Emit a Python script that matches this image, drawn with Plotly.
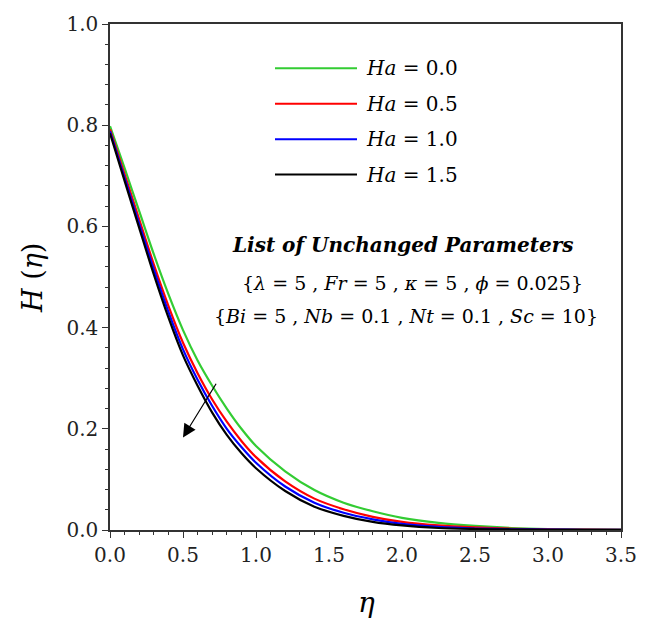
import plotly.graph_objects as go

eta = [0.0, 0.1, 0.2, 0.3, 0.4, 0.5, 0.6, 0.7, 0.8, 0.9, 1.0, 1.2, 1.4, 1.6, 1.8, 2.0, 2.25, 2.5, 2.75, 3.0, 3.25, 3.5]
H_ha00 = [0.798, 0.715, 0.630, 0.545, 0.466, 0.395, 0.335, 0.285, 0.240, 0.200, 0.166, 0.116, 0.079, 0.054, 0.037, 0.024, 0.014, 0.008, 0.004, 0.002, 0.001, 0.0005]
H_ha05 = [0.792, 0.703, 0.614, 0.525, 0.443, 0.370, 0.310, 0.258, 0.214, 0.176, 0.144, 0.096, 0.062, 0.041, 0.026, 0.016, 0.009, 0.005, 0.0025, 0.0012, 0.0006, 0.0003]
H_ha10 = [0.788, 0.696, 0.605, 0.515, 0.431, 0.357, 0.297, 0.245, 0.200, 0.164, 0.133, 0.086, 0.054, 0.034, 0.021, 0.012, 0.006, 0.003, 0.0015, 0.0008, 0.0004, 0.0002]
H_ha15 = [0.784, 0.690, 0.597, 0.505, 0.420, 0.345, 0.285, 0.232, 0.188, 0.152, 0.122, 0.077, 0.046, 0.028, 0.016, 0.009, 0.004, 0.002, 0.001, 0.0005, 0.0002, 0.0001]

series_names = ["0.0", "0.5", "1.0", "1.5"]
series_values = [H_ha00, H_ha05, H_ha10, H_ha15]
colors = ["#33cc33", "#ff0000", "#0000ff", "#000000"]

x_ticks = [0.0, 0.5, 1.0, 1.5, 2.0, 2.5, 3.0, 3.5]
y_ticks = [0.0, 0.2, 0.4, 0.6, 0.8, 1.0]

FONT = "DejaVu Serif"

fig = go.Figure()
for name, vals, c in zip(series_names, series_values, colors):
    fig.add_trace(go.Scatter(x=eta, y=vals, mode="lines", name="Ha = " + name,
                             line=dict(color=c, width=2.2, shape="spline", smoothing=0.8),
                             showlegend=False))

W, Hh = 649, 630
ml, mr, mt, mb = 110, 28, 16, 100
pw, ph = W - ml - mr, Hh - mt - mb

def px2paper(x, y):
    return (x - ml) / pw, (Hh - mb - y) / ph

# manual legend
leg_y = [61, 97, 133, 169]
for yy, name, c in zip(leg_y, series_names, colors):
    x0, y0 = px2paper(275, yy)
    x1, _ = px2paper(357, yy)
    fig.add_shape(type="line", xref="paper", yref="paper", x0=x0, x1=x1, y0=y0, y1=y0,
                  line=dict(color=c, width=2))
    tx, ty = px2paper(364, yy)
    fig.add_annotation(xref="paper", yref="paper", x=tx, y=ty, xanchor="left", yanchor="middle",
                       text="<i>Ha</i> = " + name, showarrow=False,
                       font=dict(family=FONT, size=20, color="black"))

# parameter text
ax_, ay_ = px2paper(403, 241)
fig.add_annotation(xref="paper", yref="paper", x=ax_, y=ay_, xanchor="center", yanchor="middle",
                   text="<b><i>List of Unchanged Parameters</i></b>", showarrow=False,
                   font=dict(family=FONT, size=20, color="black"))
ax_, ay_ = px2paper(412, 279)
fig.add_annotation(xref="paper", yref="paper", x=ax_, y=ay_, xanchor="center", yanchor="middle",
                   text="{<i>λ</i> = 5 , <i>Fr</i> = 5 , <i>κ</i> = 5 , <i>ϕ</i> = 0.025}", showarrow=False,
                   font=dict(family=FONT, size=19, color="black"))
ax_, ay_ = px2paper(406, 313)
fig.add_annotation(xref="paper", yref="paper", x=ax_, y=ay_, xanchor="center", yanchor="middle",
                   text="{<i>Bi</i> = 5 , <i>Nb</i> = 0.1 , <i>Nt</i> = 0.1 , <i>Sc</i> = 10}", showarrow=False,
                   font=dict(family=FONT, size=19, color="black"))

# arrow
fig.add_annotation(x=0.5, y=0.183, ax=0.733, ay=0.292, xref="x", yref="y", axref="x", ayref="y",
                   text="", showarrow=True, arrowhead=2, arrowsize=2.2, arrowwidth=1.2, arrowcolor="black")

# axis titles
tx, ty = px2paper(366, 604)
fig.add_annotation(xref="paper", yref="paper", x=tx, y=ty, xanchor="center", yanchor="middle",
                   text="<i>η</i>", showarrow=False, font=dict(family=FONT, size=28, color="black"))
tx, ty = px2paper(33, 274)
fig.add_annotation(xref="paper", yref="paper", x=tx, y=ty, xanchor="center", yanchor="middle",
                   text="<i>H</i> (<i>η</i>)", textangle=-90, showarrow=False,
                   font=dict(family=FONT, size=27, color="black"))

axis_common = dict(showgrid=False, zeroline=False, showline=True, linecolor="#333333", linewidth=1.5,
                   mirror=True, ticks="outside", ticklen=6, tickwidth=1.2, tickcolor="#333333",
                   tickfont=dict(family=FONT, size=20, color="#222222"))

fig.update_xaxes(range=[0, 3.5], tickvals=x_ticks, ticktext=[f"{v:.1f}" for v in x_ticks],
                 minor=dict(dtick=0.1, ticks="outside", ticklen=3, tickcolor="#333333", tickwidth=1),
                 **axis_common)
fig.update_yaxes(range=[0, 1.0], tickvals=y_ticks, ticktext=[f"{v:.1f}" for v in y_ticks],
                 minor=dict(dtick=0.04, ticks="outside", ticklen=3, tickcolor="#333333", tickwidth=1),
                 **axis_common)

fig.update_layout(width=W, height=Hh, margin=dict(l=ml, r=mr, t=mt, b=mb),
                  plot_bgcolor="white", paper_bgcolor="white")

fig.write_html("out.html")
